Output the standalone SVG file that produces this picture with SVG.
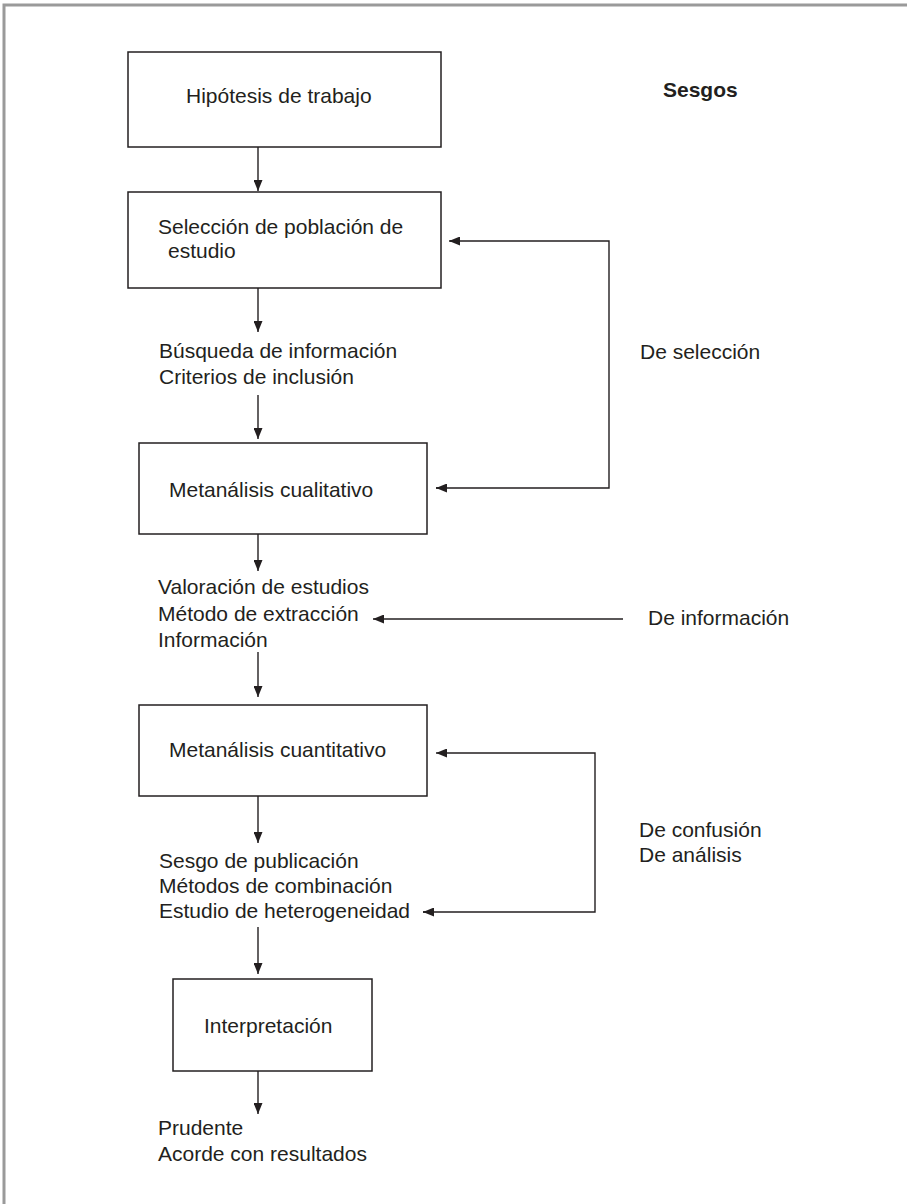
<svg xmlns="http://www.w3.org/2000/svg" width="907" height="1204" viewBox="0 0 907 1204">
<defs>
<marker id="ah" markerUnits="userSpaceOnUse" markerWidth="12" markerHeight="9" refX="11" refY="4.5" orient="auto">
<path d="M0,0 L11,4.5 L0,9 z" fill="#231f20"/>
</marker>
</defs>
<style>
text{font-family:"Liberation Sans",Arial,sans-serif;font-size:21px;fill:#231f20}
.b{font-weight:bold}
.box{fill:#fff;stroke:#231f20;stroke-width:1.5}
.ln{fill:none;stroke:#231f20;stroke-width:1.4}
.arr{fill:none;stroke:#231f20;stroke-width:1.4;marker-end:url(#ah)}
</style>
<rect width="907" height="1204" fill="#fff"/>
<path d="M4,1204 V5 H907" fill="none" stroke="#9a9a9a" stroke-width="3"/>
<g id="connectors">
<line class="arr" x1="258" y1="147" x2="258" y2="191"/>
<line class="arr" x1="258" y1="288" x2="258" y2="332"/>
<line class="arr" x1="258" y1="395" x2="258" y2="439"/>
<line class="arr" x1="258" y1="534" x2="258" y2="571"/>
<line class="arr" x1="258" y1="652" x2="258" y2="697"/>
<line class="arr" x1="258" y1="796" x2="258" y2="843"/>
<line class="arr" x1="258" y1="927" x2="258" y2="974"/>
<line class="arr" x1="258" y1="1071" x2="258" y2="1114"/>
<path class="ln" d="M436,488 H609 V241 H450"/>
<line class="arr" x1="460" y1="241" x2="449" y2="241"/>
<line class="arr" x1="446" y1="488" x2="436" y2="488"/>
<line class="arr" x1="623" y1="619" x2="373" y2="619"/>
<path class="ln" d="M423,912 H595 V753 H440"/>
<line class="arr" x1="446" y1="753" x2="436" y2="753"/>
<line class="arr" x1="433" y1="912" x2="423" y2="912"/>
</g>
<g id="n-hipotesis">
<rect class="box" x="128" y="52" width="313" height="95"/>
<text x="186" y="103">Hipótesis de trabajo</text>
</g>
<g id="n-sesgos">
<text class="b" x="663" y="97">Sesgos</text>
</g>
<g id="n-seleccion">
<rect class="box" x="128" y="192" width="313" height="96"/>
<text x="158" y="234">Selección de población de</text>
<text x="168" y="258">estudio</text>
</g>
<g id="n-busqueda">
<text x="159" y="358">Búsqueda de información</text>
<text x="159" y="384">Criterios de inclusión</text>
</g>
<g id="n-deseleccion">
<text x="640" y="359">De selección</text>
</g>
<g id="n-cualitativo">
<rect class="box" x="139" y="443" width="288" height="91"/>
<text x="169" y="497">Metanálisis cualitativo</text>
</g>
<g id="n-valoracion">
<text x="158" y="594">Valoración de estudios</text>
<text x="158" y="621">Método de extracción</text>
<text x="158" y="647">Información</text>
</g>
<g id="n-deinformacion">
<text x="648" y="625">De información</text>
</g>
<g id="n-cuantitativo">
<rect class="box" x="139" y="705" width="288" height="91"/>
<text x="169" y="757">Metanálisis cuantitativo</text>
</g>
<g id="n-confusion">
<text x="639" y="837">De confusión</text>
<text x="639" y="862">De análisis</text>
</g>
<g id="n-sesgopub">
<text x="159" y="868">Sesgo de publicación</text>
<text x="159" y="893">Métodos de combinación</text>
<text x="159" y="918">Estudio de heterogeneidad</text>
</g>
<g id="n-interpretacion">
<rect class="box" x="173" y="979" width="199" height="92"/>
<text x="204" y="1033">Interpretación</text>
</g>
<g id="n-prudente">
<text x="158" y="1135">Prudente</text>
<text x="158" y="1161">Acorde con resultados</text>
</g>
</svg>
